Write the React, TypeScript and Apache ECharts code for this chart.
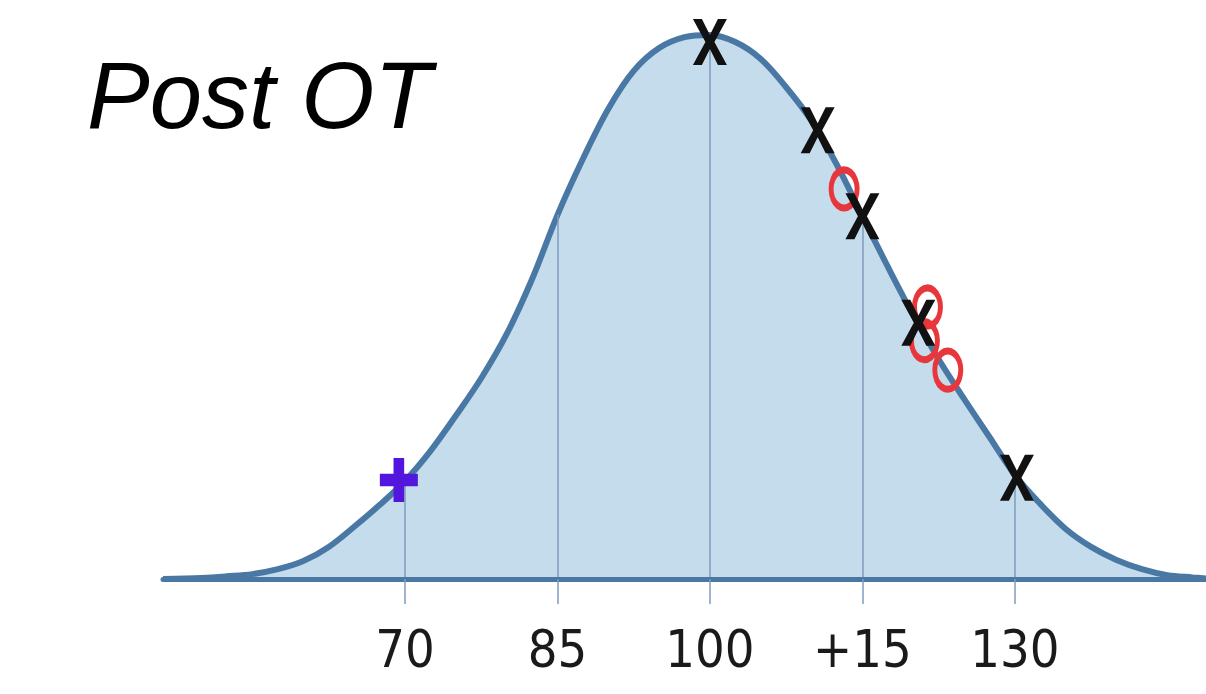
import React, { useEffect, useRef } from "react";
import * as echarts from "echarts";

// Bell curve: x value, height (% of peak)
const curveX = [46.2, 50, 52.5, 55, 57.5, 60, 62.5, 65, 67.5, 70, 72.5, 75, 77.5, 80, 82.5, 85, 87.5, 90, 92.5, 95, 97.5, 100,
  102.5, 105, 107.5, 110, 112.5, 115, 117.5, 120, 122.5, 125, 127.5, 130, 132.5, 135, 137.5, 140, 142.5, 145, 147.5, 148.8];
const curveY = [0, 0.2, 0.5, 0.9, 1.8, 3.3, 5.9, 9.6, 13.6, 18.0, 23.5, 30.0, 36.9, 45.0, 55.1, 66.9, 77.2, 86.4, 93.4, 97.6, 99.6, 100,
  98.7, 95.6, 90.4, 84.2, 76.1, 66.7, 57.4, 48.5, 40.4, 33.1, 26.1, 19.1, 13.8, 9.2, 5.9, 3.5, 1.8, 0.7, 0.3, 0.1];

const tickValues = [70, 85, 100, 115, 130];
const tickLabels = ["70", "85", "100", "+15", "130"];

const xMarks: [number, number][] = [[100, 98.7], [110.6, 82.5], [115.0, 66.7], [120.5, 47.1], [130.2, 18.6]];
const oMarks: [number, number][] = [[113.2, 71.7], [121.4, 50.0], [121.1, 43.8], [123.4, 38.4]];
const plusMarks: [number, number][] = [[69.4, 18.2]];

const title = "Post OT";

const NARROW = '"Liberation Sans Narrow", "Arial Narrow", "DejaVu Sans Condensed", "Liberation Sans", sans-serif';

export default function App() {
  const ref = useRef<HTMLDivElement>(null);
  useEffect(() => {
    if (!ref.current) return;
    const chart = echarts.init(ref.current, undefined, { renderer: "svg" });
    const curve = curveX.map((x, i) => [x, curveY[i]]);
    const heightAt = (v: number) => curveY[curveX.indexOf(v)] ?? 0;
    const labelMap: Record<string, string> = {};
    tickValues.forEach((v, i) => (labelMap[String(v)] = tickLabels[i]));

    chart.setOption({
      animation: false,
      backgroundColor: "#ffffff",
      grid: { left: 163, right: 0, top: 35, bottom: 115 },
      xAxis: {
        type: "value",
        min: 46.2,
        max: 148.8,
        z: 10,
        splitLine: { show: false },
        axisLine: { show: true, lineStyle: { color: "#4a78a5", width: 5 } },
        axisTick: {
          show: true,
          customValues: tickValues,
          length: 25,
          lineStyle: { color: "#7f9dbf", width: 1.5 },
        },
        axisLabel: {
          show: true,
          customValues: tickValues,
          margin: 44,
          fontSize: 52,
          fontFamily: NARROW,
          color: "#1a1a1a",
          formatter: (v: number) => labelMap[String(v)] ?? String(v),
        },
      },
      yAxis: { type: "value", min: 0, max: 100, show: false, splitLine: { show: false } },
      graphic: [
        {
          type: "text",
          left: 87,
          top: 48,
          style: {
            text: title,
            fontSize: 94,
            fontStyle: "italic",
            fontFamily: '"Liberation Sans", Arial, sans-serif',
            fill: "#000",
          },
        },
      ],
      series: [
        {
          type: "line",
          data: curve,
          smooth: 0.35,
          symbol: "none",
          z: 2,
          lineStyle: { color: "#4a78a5", width: 6 },
          areaStyle: { color: "#c4dcec", opacity: 1 },
          markLine: {
            silent: true,
            symbol: "none",
            label: { show: false },
            lineStyle: { color: "#7f9dbf", width: 1.5, type: "solid" },
            data: tickValues.map((v) => [
              { coord: [v, 0] },
              { coord: [v, heightAt(v)] },
            ]),
          },
        },
        {
          type: "scatter",
          data: plusMarks,
          z: 5,
          symbol: "path://M36,0H64V36H100V64H64V100H36V64H0V36H36Z",
          symbolSize: [38, 44],
          itemStyle: { color: "#5316dc", opacity: 1 },
        },
        {
          type: "scatter",
          data: oMarks,
          z: 6,
          symbol: "circle",
          symbolSize: [26, 38],
          itemStyle: { color: "rgba(0,0,0,0)", borderColor: "#e8373c", borderWidth: 6, opacity: 1 },
        },
        {
          type: "scatter",
          data: xMarks,
          z: 7,
          symbol: "path://M0,0H9L17,16L25,0H34L21.5,23L34,46H25L17,30L9,46H0L12.5,23Z",
          symbolSize: [34, 46],
          itemStyle: { color: "#111111", opacity: 1 },
        },
      ],
    });
    return () => chart.dispose();
  }, []);
  return (
    <div
      ref={ref}
      style={{ position: "fixed", left: 0, top: 0, width: 1206, height: 694, background: "#fff" }}
    />
  );
}
